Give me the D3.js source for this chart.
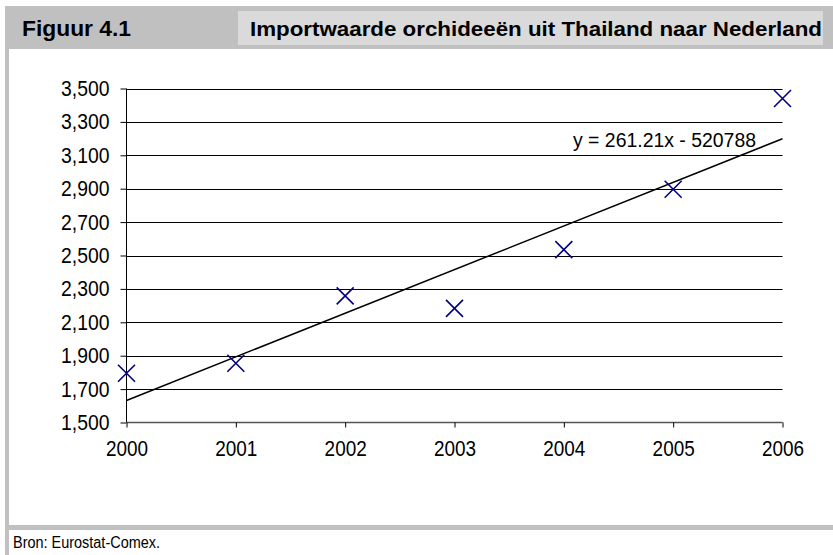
<!DOCTYPE html>
<html>
<head>
<meta charset="utf-8">
<script src="https://cdn.jsdelivr.net/npm/d3@7"></script>
<style>
  html, body { margin: 0; padding: 0; background: #ffffff; }
  svg { display: block; }
  text { font-family: "Liberation Sans", Arial, sans-serif; fill: #000; }
</style>
</head>
<body>
<script>
// Import value of orchids from Thailand to the Netherlands
const years = [2000, 2001, 2002, 2003, 2004, 2005, 2006];
const importValues = [1795, 1855, 2258, 2183, 2535, 2897, 3440];
const yTicks = [1500, 1700, 1900, 2100, 2300, 2500, 2700, 2900, 3100, 3300, 3500];
const trendSlope = 261.21;
const trendIntercept = -520788;
const figureLabel = "Figuur 4.1";
const titleText = "Importwaarde orchideeën uit Thailand naar Nederland";
const equationText = "y = 261.21x - 520788";
const sourceText = "Bron: Eurostat-Comex.";

const W = 833, H = 555;
const FONT = "Liberation Sans, Arial, sans-serif";
const svg = d3.select("body").append("svg").attr("width", W).attr("height", H);

// Squeeze a text horizontally to give it a condensed face
function condense(sel, factor) {
  sel.each(function () {
    const len = this.getComputedTextLength();
    d3.select(this).attr("textLength", len * factor).attr("lengthAdjust", "spacingAndGlyphs");
  });
}

// Frame: header band, left rule, bottom rule
svg.append("rect").attr("x", 5).attr("y", 6).attr("width", W - 5).attr("height", 43).attr("fill", "#c0c0c0");
svg.append("rect").attr("x", 238).attr("y", 11).attr("width", 585).attr("height", 34).attr("fill", "#dadada");
svg.append("rect").attr("x", 5).attr("y", 49).attr("width", 4).attr("height", H - 49).attr("fill", "#c0c0c0");
svg.append("rect").attr("x", 5).attr("y", 525).attr("width", W - 5).attr("height", 5).attr("fill", "#c0c0c0");

svg.append("text").attr("x", 22).attr("y", 36)
  .attr("font-size", 22).attr("font-weight", "bold")
  .attr("textLength", 109).attr("lengthAdjust", "spacingAndGlyphs")
  .text(figureLabel);
svg.append("text").attr("x", 250).attr("y", 36)
  .attr("font-size", 21).attr("font-weight", "bold")
  .attr("textLength", 572).attr("lengthAdjust", "spacingAndGlyphs")
  .text(titleText);

svg.append("text").attr("x", 13).attr("y", 548)
  .attr("font-size", 16)
  .attr("textLength", 147).attr("lengthAdjust", "spacingAndGlyphs")
  .text(sourceText);

// Plot scales
const x = d3.scaleLinear().domain([2000, 2006]).range([126.5, 782.5]);
const y = d3.scaleLinear().domain([1500, 3500]).range([422.5, 88.5]);

const plot = svg.append("g");

// Horizontal gridlines
plot.selectAll("line.grid").data(yTicks.filter(d => d !== 1500)).join("line")
  .attr("class", "grid")
  .attr("x1", x(2000)).attr("x2", x(2006))
  .attr("y1", d => Math.round(y(d)) + 0.5).attr("y2", d => Math.round(y(d)) + 0.5)
  .attr("stroke", "#000").attr("stroke-width", 1);

// Y axis
const yAxis = d3.axisLeft(y).tickValues(yTicks).tickSize(6).tickPadding(11)
  .tickFormat(d3.format(","));
const gy = plot.append("g").attr("transform", `translate(${x(2000)},0)`).call(yAxis);
gy.select(".domain").attr("stroke", "#000").attr("d", `M0,${y(3500)}V${y(1500)}`);
gy.selectAll(".tick line").attr("stroke", "#000");
gy.selectAll(".tick text").attr("font-size", 22).attr("font-family", FONT).attr("fill", "#000")
  .call(condense, 0.88);

// X axis
const xAxis = d3.axisBottom(x).tickValues(years).tickSize(5).tickPadding(13)
  .tickFormat(d3.format("d"));
const gx = plot.append("g").attr("transform", `translate(0,${y(1500)})`).call(xAxis);
gx.select(".domain").attr("stroke", "#555").attr("stroke-width", 1.5).attr("d", `M${x(2000)},0H${x(2006)}`);
gx.selectAll(".tick line").attr("stroke", "#000");
gx.selectAll(".tick text").attr("font-size", 22).attr("font-family", FONT).attr("fill", "#000")
  .call(condense, 0.86);

// Linear trend line from the fitted equation
const trend = yr => trendSlope * yr + trendIntercept;
plot.append("line")
  .attr("x1", x(2000)).attr("y1", y(trend(2000)))
  .attr("x2", x(2006)).attr("y2", y(trend(2006)))
  .attr("stroke", "#000").attr("stroke-width", 1.5);

// Data markers (X shapes)
const r = 8.5;
const pts = years.map((yr, i) => ({ yr, v: importValues[i] }));
const marks = plot.selectAll("g.mark").data(pts).join("g")
  .attr("class", "mark")
  .attr("transform", d => `translate(${x(d.yr)},${y(d.v)})`);
marks.append("path")
  .attr("d", `M${-r},${-r}L${r},${r}M${-r},${r}L${r},${-r}`)
  .attr("stroke", "#000080").attr("stroke-width", 1.6).attr("fill", "none");

// Equation label
svg.append("text").attr("x", 573).attr("y", 147)
  .attr("font-size", 20)
  .attr("textLength", 183).attr("lengthAdjust", "spacingAndGlyphs")
  .text(equationText);
</script>
</body>
</html>
